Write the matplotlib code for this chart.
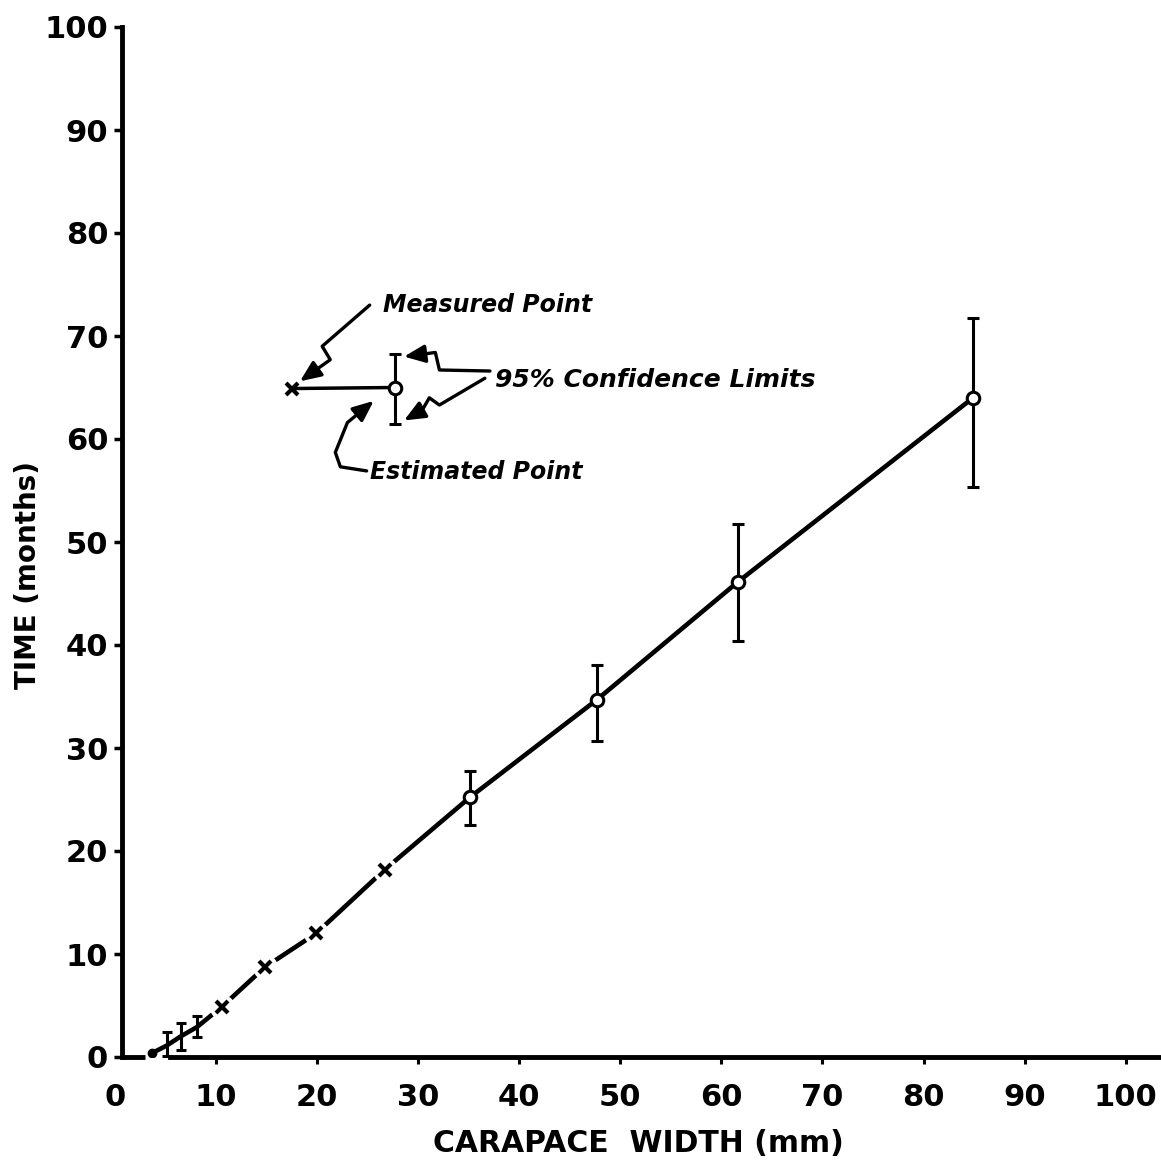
import numpy as np
import matplotlib.pyplot as plt
from matplotlib.patches import FancyArrowPatch
from matplotlib.path import Path

# start of the curve
start_x = [3.7]
start_y = [0.4]

# small estimated points (only the bars are visible)
small_x = [5.1, 6.5, 8.1]
small_y = [1.1, 2.0, 2.9]
small_lo = [0.1, 0.7, 1.9]
small_hi = [2.4, 3.3, 4.0]

# measured points (x)
meas_x = [10.6, 14.8, 19.9, 26.7]
meas_y = [4.9, 8.7, 12.0, 18.2]

# estimated points (o) with 95% confidence limits
est_x = [35.1, 47.7, 61.6, 84.9]
est_y = [25.2, 34.7, 46.1, 64.0]
est_lo = [22.5, 30.7, 40.4, 55.3]
est_hi = [27.8, 38.1, 51.7, 71.7]

# key drawn inside the plot
key_x = [17.5, 27.7]
key_y = [64.9, 65.0]
key_lo = [61.5]
key_hi = [68.3]

xticks = [0, 10, 20, 30, 40, 50, 60, 70, 80, 90, 100]
yticks = [0, 10, 20, 30, 40, 50, 60, 70, 80, 90, 100]

plt.rcParams['font.family'] = 'DejaVu Sans'
plt.rcParams['font.weight'] = 'bold'

fig = plt.figure(figsize=(11.61, 11.70), dpi=100)
ax = fig.add_axes([115 / 1161, 113 / 1170, 1046 / 1161, 1030 / 1170])

ax.set_xlim(0, 103.5)
ax.set_ylim(0, 100)

# curve through all points
line_x = np.array(start_x + small_x + meas_x + est_x)
line_y = np.array(start_y + small_y + meas_y + est_y)
order = np.argsort(line_x)
ax.plot(line_x[order], line_y[order], color='k', lw=3.3, solid_capstyle='round', zorder=2)
ax.plot(start_x, start_y, 'o', color='k', ms=6, zorder=3)

ax.errorbar(small_x, small_y,
            yerr=[np.subtract(small_y, small_lo), np.subtract(small_hi, small_y)],
            fmt='none', ecolor='k', elinewidth=2.2, capsize=3.5, capthick=2.2, zorder=3)

# white halo breaks the line around the x marks
ax.plot(meas_x, meas_y, 'o', color='w', ms=17, zorder=4)
ax.plot(meas_x, meas_y, 'x', color='k', ms=9, mew=3, zorder=5)

ax.errorbar(est_x, est_y,
            yerr=[np.subtract(est_y, est_lo), np.subtract(est_hi, est_y)],
            fmt='none', ecolor='k', elinewidth=2.2, capsize=4, capthick=2.2, zorder=3)
ax.plot(est_x, est_y, 'o', mfc='w', mec='k', ms=9, mew=2.2, zorder=5)

# key
ax.plot(key_x, key_y, color='k', lw=2.5, zorder=2)
ax.plot(key_x[:1], key_y[:1], 'x', color='k', ms=9, mew=3, zorder=5)
ax.errorbar(key_x[1:], key_y[1:],
            yerr=[np.subtract(key_y[1:], key_lo), np.subtract(key_hi, key_y[1:])],
            fmt='none', ecolor='k', elinewidth=2.2, capsize=4, capthick=2.2, zorder=3)
ax.plot(key_x[1:], key_y[1:], 'o', mfc='w', mec='k', ms=9, mew=2.2, zorder=5)


# hand drawn arrows
def squiggle(pts):
    arr = FancyArrowPatch(path=Path(pts),
                          arrowstyle='-|>,head_length=0.7,head_width=0.3',
                          mutation_scale=18, lw=2.4, color='k',
                          joinstyle='round', capstyle='round', zorder=6)
    ax.add_patch(arr)


squiggle([(25.2, 73.0), (20.5, 69.0), (21.3, 67.7), (18.3, 65.6)])
squiggle([(37.1, 66.6), (32.1, 66.7), (31.7, 68.4), (28.6, 68.0)])
squiggle([(36.6, 65.9), (32.1, 63.3), (31.1, 64.0), (30.4, 62.8), (28.6, 61.8)])
squiggle([(24.9, 56.9), (22.3, 57.3), (21.8, 58.7), (23.0, 61.6), (25.6, 63.7)])

tkw = dict(fontstyle='italic', fontweight='bold', va='center', ha='left')
ax.text(26.5, 73.0, "Measured Point", fontsize=17, **tkw)
ax.text(37.6, 65.7, "95% Confidence Limits", fontsize=18, **tkw)
ax.text(25.2, 56.8, "Estimated Point", fontsize=17, **tkw)

# axes
ax.spines['top'].set_visible(False)
ax.spines['right'].set_visible(False)
ax.spines['left'].set_position(('data', 0.7))
ax.spines['left'].set_linewidth(3.5)
ax.spines['bottom'].set_linewidth(3.5)
ax.spines['bottom'].set_bounds(5.4, 103.5)
ax.plot([0.7, 3.0], [0, 0], color='k', lw=3.5, clip_on=False, solid_capstyle='butt')

ax.set_xticks(xticks)
ax.set_yticks(yticks)
ax.set_xticklabels([str(t) for t in xticks])
ax.set_yticklabels([str(t) for t in yticks])
ax.tick_params(axis='y', direction='out', length=6, width=2.5, pad=4, labelsize=22)
ax.tick_params(axis='x', direction='out', length=5, width=2.2, pad=14, labelsize=22)
ax.xaxis.get_major_ticks()[0].tick1line.set_visible(False)

ax.set_xlabel("CARAPACE  WIDTH (mm)", fontsize=21.5, fontweight='bold', labelpad=12)
ax.set_ylabel("TIME (months)", fontsize=20, fontweight='bold')
ax.yaxis.set_label_coords(-0.07, 0.468)

plt.savefig("out.png", dpi=100)
